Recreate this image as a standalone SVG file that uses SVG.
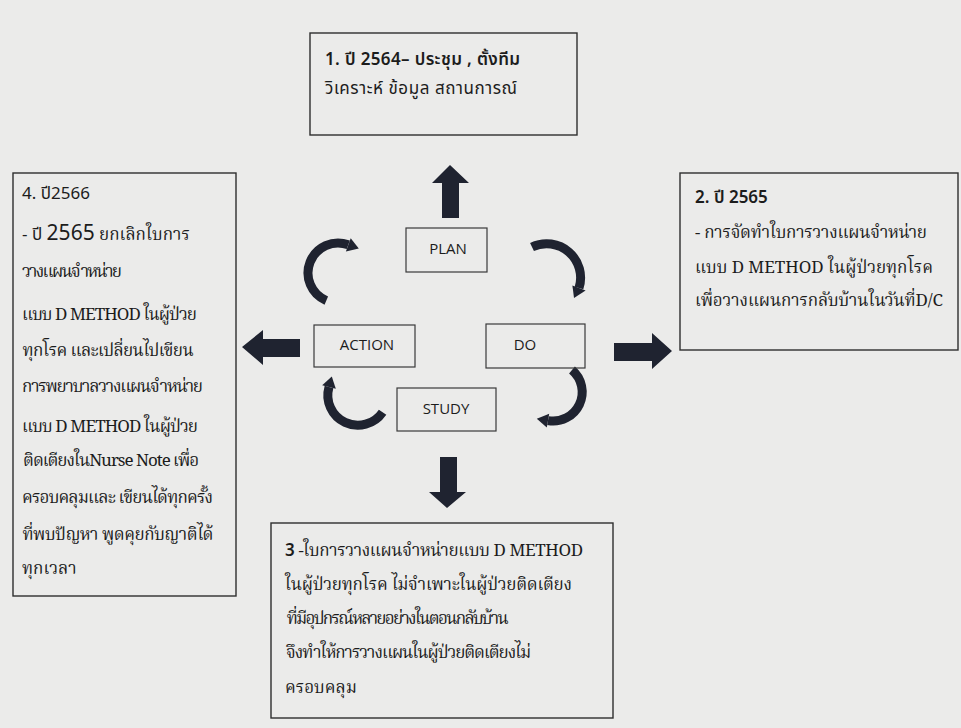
<svg xmlns="http://www.w3.org/2000/svg" width="961" height="728" viewBox="0 0 961 728">
<defs>
<style>
.bg{fill:#ebebea}
.box{fill:none;stroke:#2e2e2e;stroke-width:1.4}
.sb{fill:none;stroke:#3a3a3a;stroke-width:1.2}
.sans{font-family:"Noto Sans Thai","Noto Sans","Open Sans","Liberation Sans",sans-serif;fill:#1c1c1c;font-size:17px}
.b{font-weight:600}
.ser{font-family:"Noto Serif Thai","Liberation Serif","Noto Sans Thai",serif;fill:#1c1c1c;font-size:17px}
.lbl{font-family:"Open Sans","Noto Sans","Liberation Sans",sans-serif;fill:#1c1c1c;font-size:15px;text-anchor:middle}
.blk{fill:#1f2330}
.arc{fill:none;stroke:#1f2330;stroke-width:9;stroke-linecap:butt}
</style>
</defs>
<rect class="bg" x="0" y="0" width="961" height="728"/>

<g id="connectors">
  <polygon class="blk" points="450,165 469,183 459,183 459,218 442,218 442,183 432,183"/>
  <polygon class="blk" points="242,347 263,330 263,339 300,339 300,357 263,357 263,365"/>
  <polygon class="blk" points="672,351 652,333 652,343 614,343 614,361 652,361 652,369"/>
  <polygon class="blk" points="447,508 466,492 457,492 457,457 440,457 440,492 429,492"/>
  <path class="arc" d="M326.3,300.6 A30,30 0 0 1 348.3,244.8"/>
  <polygon class="blk" points="350.7,238.2 345.9,251.4 358.8,248.5"/>
  <path class="arc" d="M532,247 A34,34 0 0 1 579,288"/>
  <polygon class="blk" points="585.6,290.4 572.4,285.6 574,298"/>
  <path class="arc" d="M572,370 A29,29 0 0 1 548,420.6"/>
  <polygon class="blk" points="546.8,427.5 549.2,413.7 536.8,418.8"/>
  <path class="arc" d="M382.6,412.2 A30,30 0 0 1 329,387"/>
  <polygon class="blk" points="322.2,385.2 335.8,388.8 331.8,376.5"/>
</g>

<g id="plan">
  <rect class="sb" x="406" y="228" width="81" height="44"/>
  <text class="lbl" x="448" y="254">PLAN</text>
</g>
<g id="do">
  <rect class="sb" x="486" y="324" width="99" height="44"/>
  <text class="lbl" x="525" y="350">DO</text>
</g>
<g id="study">
  <rect class="sb" x="397" y="388" width="99" height="43"/>
  <text class="lbl" x="446" y="414">STUDY</text>
</g>
<g id="action">
  <rect class="sb" x="314" y="325" width="101" height="42"/>
  <text class="lbl" x="367" y="350">ACTION</text>
</g>

<g id="step1">
  <rect class="box" x="310" y="33" width="267" height="102"/>
  <text class="sans b" x="325" y="65" textLength="195">1.  ปี 2564– ประชุม , ตั้งทีม</text>
  <text class="sans" x="325" y="94" textLength="192">วิเคราะห์ ข้อมูล สถานการณ์</text>
</g>

<g id="step2">
  <rect class="box" x="680" y="173" width="278" height="177"/>
  <text class="sans b" x="695" y="203">2. ปี 2565</text>
  <text class="ser" x="695" y="238" textLength="232">- การจัดทำใบการวางแผนจำหน่าย</text>
  <text class="ser" x="695" y="273" textLength="238">แบบ D METHOD ในผู้ป่วยทุกโรค</text>
  <text class="ser" x="695" y="306" textLength="248">เพื่อวางแผนการกลับบ้านในวันที่D/C</text>
</g>

<g id="step3">
  <rect class="box" x="271" y="523" width="342" height="195"/>
  <text class="ser" x="285" y="556" textLength="298"><tspan class="sans b">3</tspan>  -ใบการวางแผนจำหน่ายแบบ D METHOD</text>
  <text class="ser" x="285" y="590" textLength="287">ในผู้ป่วยทุกโรค ไม่จำเพาะในผู้ป่วยติดเตียง</text>
  <text class="ser" x="285" y="624" textLength="222">ที่มีอุปกรณ์หลายอย่างในตอนกลับบ้าน</text>
  <text class="ser" x="285" y="658" textLength="245">จึงทำให้การวางแผนในผู้ป่วยติดเตียงไม่</text>
  <text class="ser" x="285" y="693">ครอบคลุม</text>
</g>

<g id="step4">
  <rect class="box" x="13" y="173" width="223" height="423"/>
  <text class="sans" x="22" y="199">4. ปี2566</text>
  <text class="ser" x="22" y="240"><tspan class="sans">- ปี </tspan><tspan class="sans" style="font-size:21px">2565</tspan> ยกเลิกใบการ</text>
  <text class="ser" x="22" y="277" textLength="100">วางแผนจำหน่าย</text>
  <text class="ser" x="22" y="320" textLength="175">แบบ D METHOD ในผู้ป่วย</text>
  <text class="ser" x="22" y="356" textLength="171">ทุกโรค และเปลี่ยนไปเขียน</text>
  <text class="ser" x="22" y="392" textLength="181">การพยาบาลวางแผนจำหน่าย</text>
  <text class="ser" x="22" y="432" textLength="176">แบบ D METHOD ในผู้ป่วย</text>
  <text class="ser" x="22" y="466" textLength="176">ติดเตียงในNurse Note เพื่อ</text>
  <text class="ser" x="22" y="503" textLength="191">ครอบคลุมและ เขียนได้ทุกครั้ง</text>
  <text class="ser" x="22" y="540" textLength="191">ที่พบปัญหา พูดคุยกับญาติได้</text>
  <text class="ser" x="22" y="574">ทุกเวลา</text>
</g>
</svg>
